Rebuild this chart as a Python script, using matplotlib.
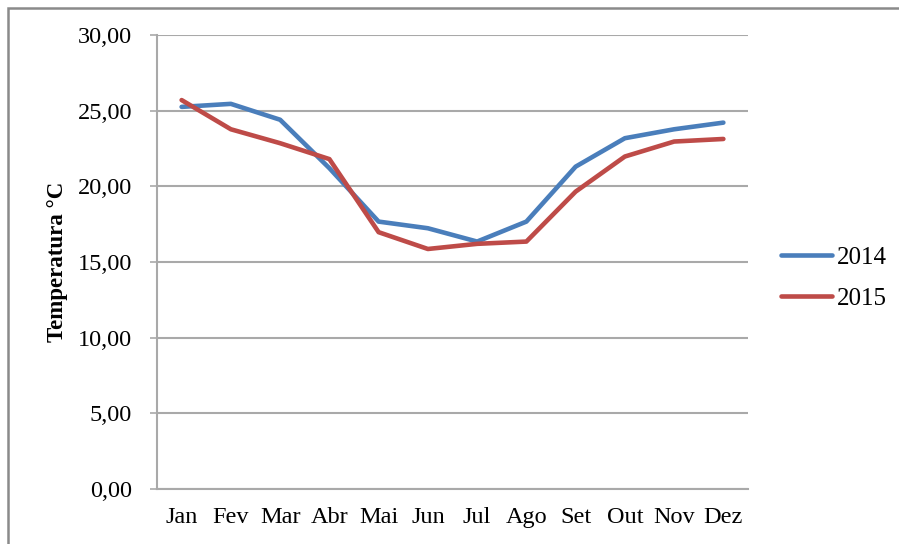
import matplotlib
matplotlib.use("Agg")
import matplotlib.pyplot as plt
from matplotlib.patches import Rectangle
from matplotlib.ticker import FuncFormatter

plt.rcParams['font.family'] = ['Liberation Serif', 'DejaVu Serif']

meses = ['Jan', 'Fev', 'Mar', 'Abr', 'Mai', 'Jun', 'Jul', 'Ago', 'Set', 'Out', 'Nov', 'Dez']
temp_2014 = [25.25, 25.45, 24.40, 21.20, 17.67, 17.23, 16.35, 17.67, 21.30, 23.18, 23.77, 24.21]
temp_2015 = [25.70, 23.77, 22.85, 21.80, 16.97, 15.86, 16.20, 16.35, 19.65, 21.97, 22.96, 23.13]

grid_col = '#a9a9a9'

fig = plt.figure(figsize=(8.99, 5.44), dpi=100)
ax = fig.add_axes([157 / 899, 1 - 489 / 544, (748 - 157) / 899, (489 - 35) / 544])

x = range(len(meses))
ax.plot(x, temp_2014, color='#4a7ebb', lw=3.3, label='2014', solid_capstyle='round')
ax.plot(x, temp_2015, color='#be4b48', lw=3.3, label='2015', solid_capstyle='round')

ax.set_xlim(-0.5, len(meses) - 0.5)
ax.set_ylim(0, 30)
ax.set_yticks(range(0, 31, 5))
ax.yaxis.set_major_formatter(FuncFormatter(lambda v, p: f'{v:.2f}'.replace('.', ',')))
ax.set_xticks(list(x))
ax.set_xticklabels(meses)

ax.grid(axis='y', color=grid_col, lw=1.5)
ax.set_axisbelow(True)
for s in ('top', 'right'):
    ax.spines[s].set_visible(False)
for s in ('left', 'bottom'):
    ax.spines[s].set_color(grid_col)
    ax.spines[s].set_linewidth(1.5)

ax.tick_params(axis='y', length=5, width=1.2, color=grid_col, pad=13, labelsize=17.5)
ax.tick_params(axis='x', length=0, pad=13, labelsize=17.5)
ax.set_ylabel('Temperatura °C', fontsize=16.5, fontweight='bold', labelpad=7)

ax.legend(loc='center left', bbox_to_anchor=(781 / 899, 1 - 278 / 544),
          bbox_transform=fig.transFigure, frameon=False, fontsize=18,
          handlelength=2.05, handletextpad=0.2, labelspacing=0.75,
          borderpad=0, borderaxespad=0)

# outer frame, cut off on the right and bottom
fig.patches.append(Rectangle((7.5 / 899, -0.1), 1.2, 1 - 7.5 / 544 + 0.1,
                             transform=fig.transFigure, fill=False,
                             edgecolor='#8a8a8a', lw=1.8))

fig.savefig('out.png', dpi=100, facecolor='white')
